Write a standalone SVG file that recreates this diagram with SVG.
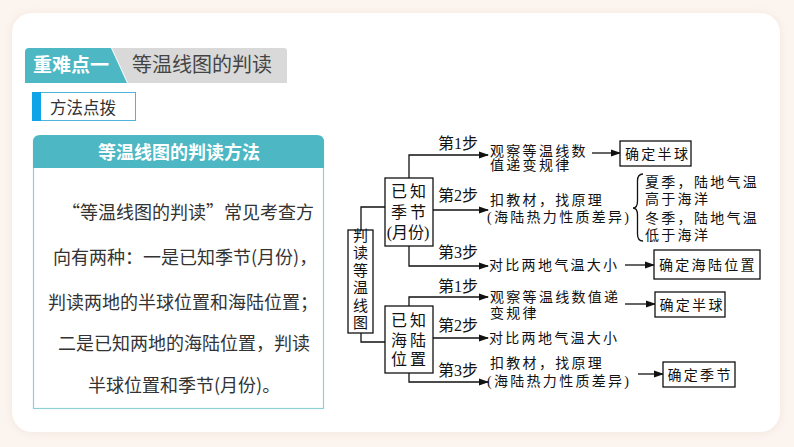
<svg xmlns="http://www.w3.org/2000/svg" width="794" height="447" viewBox="0 0 794 447">
<style>
.sans{font-family:"Noto Sans CJK SC","Noto Sans",sans-serif;}
.fc{font-family:"Liberation Serif","Noto Sans CJK SC",serif;fill:#111;font-size:14px;letter-spacing:2.3px;}
.lbl{font-family:"Liberation Serif","Noto Sans CJK SC",serif;fill:#111;font-size:16px;}
.box{fill:#fff;stroke:#111;stroke-width:1.3;}
.ln{fill:none;stroke:#111;stroke-width:1.3;}
.body{font-size:18px;fill:#333;}
</style>
<defs>
<marker id="ah" markerUnits="userSpaceOnUse" markerWidth="10" markerHeight="8" refX="9" refY="4" orient="auto">
<path d="M0,0.5 L10,4 L0,7.5 z" fill="#111"/>
</marker>
<filter id="sh" x="-5%" y="-5%" width="110%" height="110%">
<feGaussianBlur stdDeviation="5"/>
</filter>
</defs>
<rect width="794" height="447" fill="#fcf4ef"/>
<rect x="12" y="14" width="768" height="419" rx="20" fill="#f3e6df" filter="url(#sh)"/>
<rect x="12" y="13" width="768" height="419" rx="20" fill="#ffffff"/>

<g id="title-tab">
<path d="M112,48 L284,48 Q287,48 287,51 L287,83 L128,83 Z" fill="#d9d9d9"/>
<path d="M29,48 L111,48 L127,83 L25,83 L25,52 Q25,48 29,48 Z" fill="#4db8c3"/>
<text x="33" y="72" class="sans" font-size="19" font-weight="bold" fill="#fff">重难点一</text>
<text x="132" y="72" class="sans" font-size="20" fill="#444">等温线图的判读</text>
</g>

<g id="method-tag">
<rect x="32.5" y="92.5" width="103" height="28" fill="#fff" stroke="#4fb3dc" stroke-width="1"/>
<rect x="32" y="92" width="9" height="29" fill="#0fa3e8"/>
<text x="50" y="114" class="sans" font-size="16.5" fill="#333">方法点拨</text>
</g>

<g id="method-card">
<rect x="33.5" y="140" width="290" height="268.5" fill="#fff" stroke="#8fd0d6" stroke-width="1.2"/>
<path d="M33,168 L33,142 Q33,135 40,135 L317,135 Q324,135 324,142 L324,168 Z" fill="#4db8c3"/>
<text x="179" y="158.5" text-anchor="middle" class="sans" font-size="18" font-weight="bold" fill="#fff">等温线图的判读方法</text>
<text x="62" y="219" class="sans body">“等温线图的判读”常见考查方</text>
<text x="53" y="264" class="sans body">向有两种：一是已知季节(月份)，</text>
<text x="48" y="309" class="sans body">判读两地的半球位置和海陆位置；</text>
<text x="58" y="350" class="sans body">二是已知两地的海陆位置，判读</text>
<text x="88" y="392" class="sans body">半球位置和季节(月份)。</text>
</g>

<g id="connectors">
<path class="ln" d="M361,230 V207 H385"/>
<path class="ln" d="M361,333 V342 H385"/>
<path class="ln" marker-end="url(#ah)" d="M409,178 V155 H488"/>
<path class="ln" marker-end="url(#ah)" d="M433,210 H488"/>
<path class="ln" marker-end="url(#ah)" d="M409,246 V266 H488"/>
<path class="ln" marker-end="url(#ah)" d="M592,153 H620"/>
<path class="ln" marker-end="url(#ah)" d="M625,265 H654"/>
<path class="ln" marker-end="url(#ah)" d="M409,306 V297 H488"/>
<path class="ln" marker-end="url(#ah)" d="M433,338 H488"/>
<path class="ln" marker-end="url(#ah)" d="M409,373 V382 H488"/>
<path class="ln" marker-end="url(#ah)" d="M625,304 H655"/>
<path class="ln" marker-end="url(#ah)" d="M638,374 H663"/>
<path class="ln" d="M643,174 Q637.5,174 637.5,181 L637.5,201 Q637.5,208 633,208 Q637.5,208 637.5,215 L637.5,234 Q637.5,241 643,241"/>
</g>

<g id="root-node">
<rect class="box" x="348" y="230" width="25" height="103"/>
<text class="fc" x="360.5" text-anchor="middle" style="letter-spacing:0;font-size:15px">
<tspan x="360.5" y="240.5">判</tspan><tspan x="360.5" y="258">读</tspan><tspan x="360.5" y="275.5">等</tspan><tspan x="360.5" y="293">温</tspan><tspan x="360.5" y="310.5">线</tspan><tspan x="360.5" y="328">图</tspan>
</text>
</g>

<g id="known-season">
<rect class="box" x="385" y="178" width="48" height="68"/>
<text class="lbl" text-anchor="middle" x="409"><tspan x="410" y="197" letter-spacing="3">已知</tspan><tspan x="410" y="218" letter-spacing="3">季节</tspan><tspan x="408" y="238">(月份)</tspan></text>
</g>

<g id="known-sealand">
<rect class="box" x="385" y="306" width="48" height="67"/>
<text class="lbl" text-anchor="middle"><tspan x="410" y="325.5" letter-spacing="3">已知</tspan><tspan x="410" y="345.5" letter-spacing="3">海陆</tspan><tspan x="410" y="365" letter-spacing="3">位置</tspan></text>
</g>

<g id="s1-steps">
<text class="lbl" x="438" y="149">第1步</text>
<text class="fc" x="490" y="155.5">观察等温线数</text>
<text class="fc" x="490" y="170">值递变规律</text>
<text class="lbl" x="438" y="201">第2步</text>
<text class="fc" x="490" y="205">扣教材，找原理</text>
<text class="fc" x="487" y="221.5">(海陆热力性质差异)</text>
<text class="lbl" x="438" y="258">第3步</text>
<text class="fc" x="489" y="270">对比两地气温大小</text>
</g>

<g id="s1-results">
<rect class="box" x="620" y="141" width="71" height="25"/>
<text class="fc" x="625" y="158.5">确定半球</text>
<text class="fc" x="645" y="187">夏季，陆地气温</text>
<text class="fc" x="645" y="204">高于海洋</text>
<text class="fc" x="645" y="223">冬季，陆地气温</text>
<text class="fc" x="645" y="240">低于海洋</text>
<rect class="box" x="654" y="250" width="106" height="29"/>
<text class="fc" x="659" y="270">确定海陆位置</text>
</g>

<g id="s2-steps">
<text class="lbl" x="438" y="292">第1步</text>
<text class="fc" x="490" y="302">观察等温线数值递</text>
<text class="fc" x="490" y="318">变规律</text>
<text class="lbl" x="438" y="331">第2步</text>
<text class="fc" x="489" y="343">对比两地气温大小</text>
<text class="lbl" x="438" y="376">第3步</text>
<text class="fc" x="490" y="368">扣教材，找原理</text>
<text class="fc" x="487" y="386">(海陆热力性质差异)</text>
</g>

<g id="s2-results">
<rect class="box" x="655" y="292" width="70" height="25"/>
<text class="fc" x="659.5" y="309.5">确定半球</text>
<rect class="box" x="663" y="362" width="72" height="25"/>
<text class="fc" x="667.5" y="379.5">确定季节</text>
</g>
</svg>
